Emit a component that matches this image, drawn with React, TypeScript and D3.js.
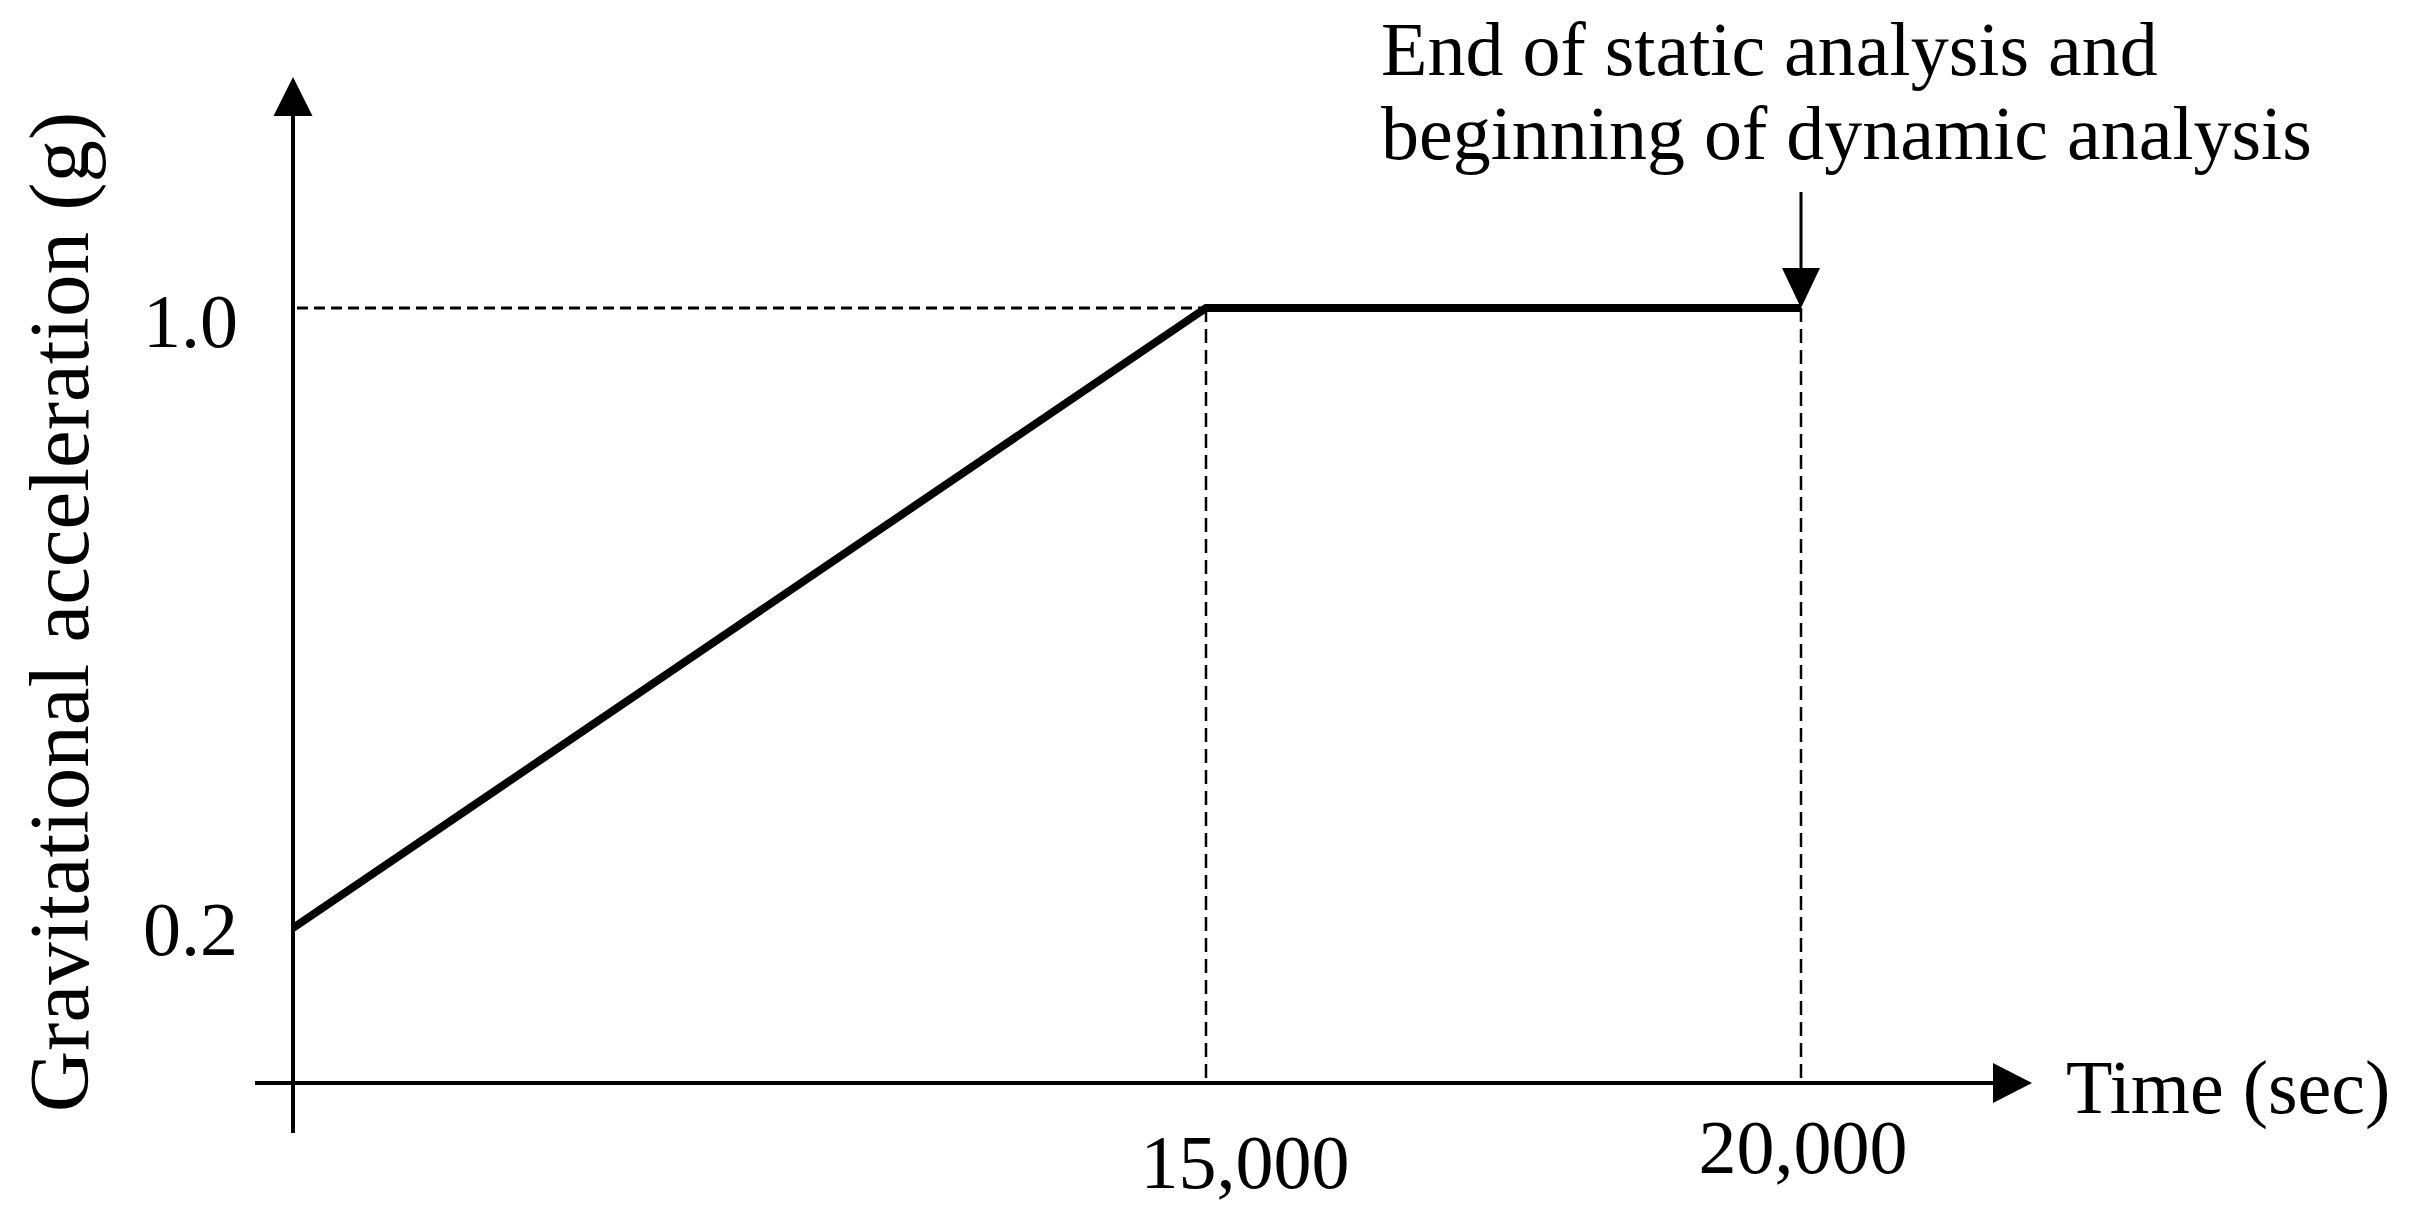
import React from "react";
import * as d3 from "d3";

// ---- data ----
const timeValues = [0, 15000, 20000];
const accelValues = [0.2, 1.0, 1.0];
const xTickValues = [15000, 20000];
const xTickLabels = ["15,000", "20,000"];
const yTickValues = [0.2, 1.0];
const yTickLabels = ["0.2", "1.0"];
const guideTimes = [15000, 20000];
const guideAccel = 1.0;
const annotationTime = 20000;
const annotationLines = ["End of static analysis and", "beginning of dynamic analysis"];
const xAxisTitle = "Time (sec)";
const yAxisTitle = "Gravitational acceleration (g)";

// ---- layout (styles / positions) ----
const W = 2411;
const H = 1222;
const FONT = "'Liberation Serif', 'Times New Roman', Times, serif";
const xTickDx = [39, 2];
const xTickBase = [105, 90];
const yTickDy = [27, 39];

export default function App() {
  const x = d3.scaleLinear().domain([0, 15000, 20000]).range([293, 1206, 1801]);
  const y = d3.scaleLinear().domain([0, 1]).range([1083, 308]);

  const pts = timeValues.map((t, i) => [x(t), y(accelValues[i])] as [number, number]);
  const line = d3.line<[number, number]>().x((d) => d[0]).y((d) => d[1]);

  const x0 = x(0);
  const y0 = y(0);
  const yAxisTop = 116;
  const yArrowTip = 77;
  const xAxisRight = 1993;
  const xArrowTip = 2032;

  const ax = x(annotationTime);
  const ay = y(guideAccel);

  return (
    <svg
      width={W}
      height={H}
      viewBox={`0 0 ${W} ${H}`}
      style={{ position: "absolute", left: 0, top: 0, display: "block", background: "#fff" }}
    >
      <rect x={0} y={0} width={W} height={H} fill="#fff" />

      {/* dashed guides */}
      <line
        x1={x0 + 4}
        x2={x(15000)}
        y1={y(guideAccel)}
        y2={y(guideAccel)}
        stroke="#000"
        strokeWidth={3}
        strokeDasharray="11,6"
      />
      {guideTimes.map((t) => (
        <line
          key={t}
          x1={x(t)}
          x2={x(t)}
          y1={y(guideAccel)}
          y2={y0}
          stroke="#000"
          strokeWidth={2.5}
          strokeDasharray="14,7"
        />
      ))}

      {/* axes */}
      <line x1={x0} x2={x0} y1={1133} y2={yAxisTop} stroke="#000" strokeWidth={4} />
      <polygon
        points={`${x0 - 19.5},${yAxisTop} ${x0 + 19.5},${yAxisTop} ${x0},${yArrowTip}`}
        fill="#000"
      />
      <line x1={255} x2={xAxisRight} y1={y0} y2={y0} stroke="#000" strokeWidth={4} />
      <polygon
        points={`${xAxisRight},${y0 - 20} ${xAxisRight},${y0 + 20} ${xArrowTip},${y0}`}
        fill="#000"
      />

      {/* data line */}
      <path
        d={line(pts) || ""}
        fill="none"
        stroke="#000"
        strokeWidth={8}
        strokeLinejoin="miter"
      />

      {/* annotation arrow */}
      <line x1={ax} x2={ax} y1={192} y2={ay - 35} stroke="#000" strokeWidth={3} />
      <polygon points={`${ax - 19},${ay - 40} ${ax + 19},${ay - 40} ${ax},${ay}`} fill="#000" />

      {/* annotation text */}
      <g fontFamily={FONT} fontSize={76} fill="#000">
        {annotationLines.map((s, i) => (
          <text key={i} x={1381} y={75 + i * 84}>
            {s}
          </text>
        ))}
      </g>

      {/* tick labels */}
      <g fontFamily={FONT} fontSize={76} fill="#000">
        {yTickValues.map((v, i) => (
          <text key={v} x={238} y={y(v) + yTickDy[i]} textAnchor="end">
            {yTickLabels[i]}
          </text>
        ))}
        {xTickValues.map((v, i) => (
          <text key={v} x={x(v) + xTickDx[i]} y={y0 + xTickBase[i]} textAnchor="middle">
            {xTickLabels[i]}
          </text>
        ))}
      </g>

      {/* axis titles */}
      <text x={2066} y={1113} fontFamily={FONT} fontSize={76} fill="#000">
        {xAxisTitle}
      </text>
      <text
        transform={`translate(88, 612) rotate(-90)`}
        textAnchor="middle"
        fontFamily={FONT}
        fontSize={85}
        fill="#000"
      >
        {yAxisTitle}
      </text>
    </svg>
  );
}
